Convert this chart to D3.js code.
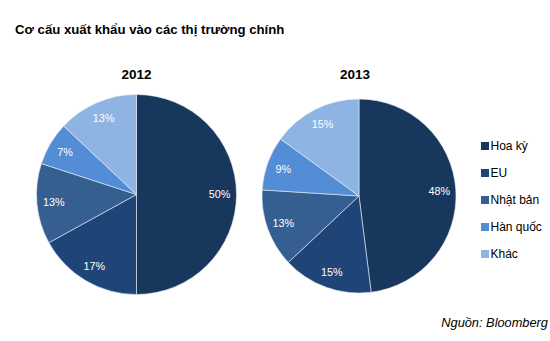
<!DOCTYPE html>
<html>
<head>
<meta charset="utf-8">
<script src="https://cdn.jsdelivr.net/npm/d3@7"></script>
<style>
  html, body { margin: 0; padding: 0; background: #fff; }
  svg { display: block; font-family: "Liberation Sans", Arial, sans-serif; }
</style>
</head>
<body>
<svg id="chart" width="550" height="341"></svg>
<script>
const categories = ["Hoa kỳ", "EU", "Nhật bản", "Hàn quốc", "Khác"];
const colors = ["#17375d", "#1f4578", "#365f91", "#538dd5", "#8db4e2"];
const years = ["2012", "2013"];
const values2012 = [50, 17, 13, 7, 13];
const values2013 = [48, 15, 13, 9, 15];
const title = "Cơ cấu xuất khẩu vào các thị trường chính";
const source = "Nguồn: Bloomberg";

const svg = d3.select("#chart");

svg.append("text")
  .attr("x", 15).attr("y", 34)
  .attr("font-size", 13.2).attr("font-weight", "bold").attr("fill", "#000")
  .text(title);

const pies = [
  { year: years[0], values: values2012, cx: 136.5, cy: 194.5, r: 100, tx: 136.5 },
  { year: years[1], values: values2013, cx: 359, cy: 196, r: 97, tx: 355 }
];

const pieGen = d3.pie().sort(null).value(d => d);
const color = d3.scaleOrdinal().domain(categories).range(colors);

pies.forEach(p => {
  const g = svg.append("g").attr("transform", `translate(${p.cx},${p.cy})`);
  const arc = d3.arc().innerRadius(0).outerRadius(p.r);
  const labelArc = d3.arc().innerRadius(p.r * 0.83).outerRadius(p.r * 0.83);
  const arcs = pieGen(p.values);
  g.selectAll("path").data(arcs).enter().append("path")
    .attr("d", arc)
    .attr("fill", (d, i) => color(categories[i]))
    .attr("stroke", "#e8eef6").attr("stroke-width", 0.6);
  g.selectAll("text.lbl").data(arcs).enter().append("text")
    .attr("class", "lbl")
    .attr("transform", d => `translate(${labelArc.centroid(d)})`)
    .attr("text-anchor", "middle").attr("dy", "0.35em")
    .attr("font-size", 10.8).attr("fill", "#fff")
    .text(d => d.value + "%");
  svg.append("text")
    .attr("x", p.tx).attr("y", 78.5)
    .attr("text-anchor", "middle")
    .attr("font-size", 13.5).attr("font-weight", "bold").attr("fill", "#000")
    .text(p.year);
});

const legend = svg.append("g").attr("transform", "translate(481,146)");
const ly = d3.scalePoint().domain(categories).range([0, 108]);
const items = legend.selectAll("g").data(categories).enter().append("g")
  .attr("transform", d => `translate(0,${ly(d)})`);
items.append("rect").attr("x", 0).attr("y", -4).attr("width", 8).attr("height", 8)
  .attr("fill", d => color(d));
items.append("text").attr("x", 9.5).attr("dy", "0.36em")
  .attr("font-size", 12).attr("fill", "#000").text(d => d);

svg.append("text")
  .attr("x", 548).attr("y", 327)
  .attr("text-anchor", "end")
  .attr("font-size", 12.8).attr("font-style", "italic").attr("fill", "#000")
  .text(source);
</script>
</body>
</html>
